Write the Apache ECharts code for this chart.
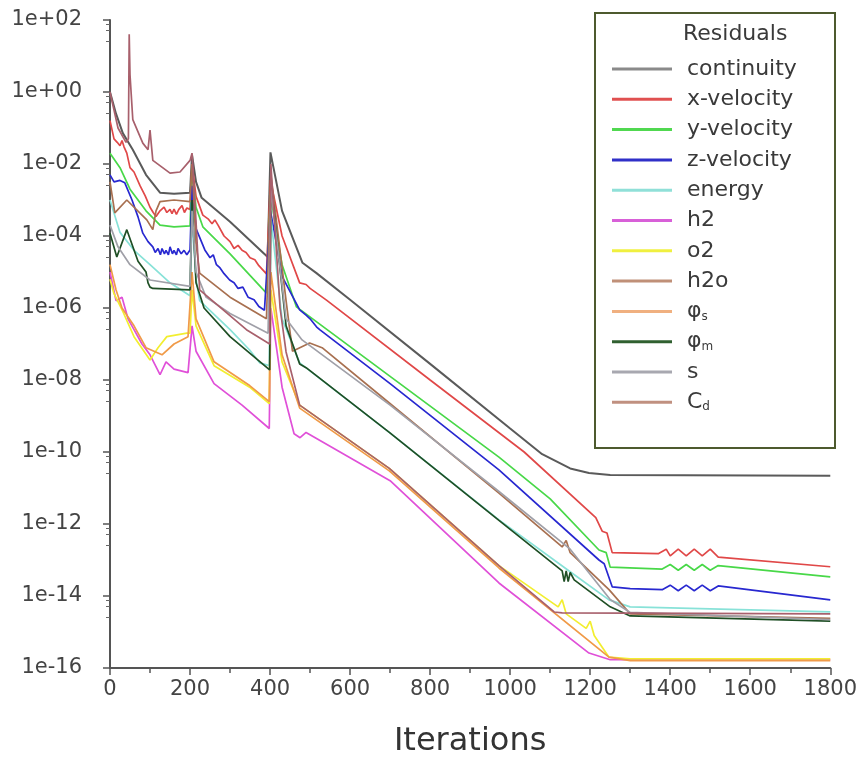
<!DOCTYPE html>
<html><head><meta charset="utf-8">
<script src="https://cdn.jsdelivr.net/npm/echarts@6/dist/echarts.min.js"></script>
<style>html,body{margin:0;padding:0;background:#fff}#c{width:860px;height:776px}</style>
</head><body><div id="c"></div>
<script>
// ---- data (iteration, residual) ----
const seriesNames = ['continuity','x-velocity','y-velocity','z-velocity','energy','h2','o2','h2o','φs','φm','s','Cd'];
const seriesColors = ['#5a5a5a','#e04848','#48d848','#2828d0','#88e2d8','#e050d8','#f2ee30','#a87050','#f09a48','#1f4f25','#a0a0a8','#a8606c'];
const legendColors = ['#8a8a8a','#e05050','#50d850','#3030c8','#90e0d8','#d860d8','#f0f040','#c09078','#f0b080','#306030','#a8a8b0','#c09080'];
const xTicks = [0,200,400,600,800,1000,1200,1400,1600,1800];

const continuity = [[0,1.0],[15,0.25],[32,0.072],[57,0.025],[90,5e-3],[125,1.6e-3],[160,1.5e-3],[200,1.6e-3],[205,1.8e-2],[215,3.2e-3],[229,1.15e-3],[300,2.5e-4],[394,2.6e-5],[401,2.1e-2],[430,5e-4],[481,1.8e-5],[516,9.3e-6],[600,1.7e-6],[800,2.8e-8],[1000,4.5e-10],[1080,8.7e-11],[1150,3.5e-11],[1197,2.6e-11],[1250,2.3e-11],[1800,2.2e-11]];
const xVelocity = [[0,0.16],[10,0.05],[18,0.04],[25,0.032],[30,0.045],[35,0.03],[42,0.02],[50,7.9e-3],[60,6e-3],[75,2.5e-3],[88,1.3e-3],[100,6.3e-4],[108,4.5e-4],[115,3.5e-4],[125,5e-4],[135,6.3e-4],[142,4.5e-4],[150,5.5e-4],[155,4.2e-4],[160,5.6e-4],[166,4e-4],[172,5.5e-4],[180,7e-4],[186,4.5e-4],[192,6e-4],[200,5.5e-4],[205,1e-2],[215,1.26e-3],[232,3.8e-4],[245,3e-4],[255,2.2e-4],[262,2.8e-4],[270,2e-4],[285,1e-4],[300,7e-5],[310,4.5e-5],[320,5.5e-5],[330,4e-5],[340,3.5e-5],[350,2.5e-5],[362,2.2e-5],[372,1.5e-5],[391,8.9e-6],[401,3.6e-3],[430,1e-4],[474,5e-6],[490,4.5e-6],[500,3.5e-6],[541,1.66e-6],[800,1e-8],[1035,1e-10],[1214,1.5e-12],[1230,6.3e-13],[1242,5.6e-13],[1255,1.6e-13],[1370,1.5e-13],[1390,2e-13],[1400,1.3e-13],[1420,2e-13],[1440,1.3e-13],[1460,2e-13],[1480,1.3e-13],[1500,2e-13],[1520,1.2e-13],[1800,6.5e-14]];
const yVelocity = [[0,2e-2],[25,7.9e-3],[50,2e-3],[90,5e-4],[125,2e-4],[160,1.8e-4],[200,1.9e-4],[205,6.3e-3],[215,6.3e-4],[232,1.8e-4],[300,3.2e-5],[391,2.6e-6],[401,1.4e-3],[430,1.6e-5],[466,1.07e-6],[700,1.26e-8],[972,7.2e-11],[1100,5e-12],[1222,1.9e-13],[1240,1.6e-13],[1250,6.3e-14],[1380,5.6e-14],[1400,7.5e-14],[1420,5.2e-14],[1440,7.5e-14],[1460,5.2e-14],[1480,7.5e-14],[1500,5.2e-14],[1520,7e-14],[1800,3.4e-14]];
const zVelocity = [[0,5e-3],[10,3.2e-3],[25,3.5e-3],[37,3e-3],[55,1e-3],[70,3.4e-4],[82,1.2e-4],[95,7e-5],[107,5e-5],[113,3.5e-5],[120,4.5e-5],[126,3e-5],[130,4.5e-5],[136,3.2e-5],[140,4e-5],[146,3e-5],[150,5e-5],[156,3.2e-5],[160,4e-5],[166,3e-5],[170,4.5e-5],[178,3.2e-5],[185,4e-5],[192,3e-5],[200,4.1e-5],[205,2.5e-3],[215,1.6e-4],[237,4.1e-5],[250,2.5e-5],[258,3e-5],[266,1.6e-5],[275,1.3e-5],[285,9e-6],[299,6e-6],[310,5e-6],[320,3.5e-6],[332,3.8e-6],[345,2e-6],[360,1.7e-6],[372,1.1e-6],[386,8.7e-7],[401,5e-4],[431,7.2e-6],[474,8.9e-7],[490,6.3e-7],[500,5e-7],[516,3e-7],[524,2.5e-7],[700,7.9e-9],[972,3.2e-11],[1222,1e-13],[1235,7.9e-14],[1255,1.8e-14],[1300,1.6e-14],[1380,1.5e-14],[1400,2e-14],[1420,1.4e-14],[1440,2e-14],[1460,1.4e-14],[1480,2e-14],[1500,1.4e-14],[1520,1.9e-14],[1800,7.8e-15]];
const energy = [[0,1e-3],[25,1.26e-4],[60,4e-5],[100,1.6e-5],[150,5e-6],[200,2.2e-6],[205,3.2e-4],[215,6.3e-6],[224,1.6e-6],[300,2.5e-7],[349,6.8e-8],[374,3e-8],[398,2.5e-8],[402,3.2e-4],[430,5e-7],[474,3e-8],[698,3.5e-10],[972,1.3e-12],[1150,4.7e-14],[1247,7.8e-15],[1300,5e-15],[1800,3.6e-15]];
const h2 = [[0,1e-5],[15,1.6e-6],[30,2e-6],[45,5e-7],[60,2.5e-7],[80,1e-7],[100,5e-8],[125,1.4e-8],[140,3.2e-8],[160,2e-8],[195,1.6e-8],[205,3.2e-7],[215,6.3e-8],[260,7.9e-9],[330,2e-9],[398,4.5e-10],[402,1e-6],[430,6.3e-9],[460,3.2e-10],[475,2.5e-10],[490,3.5e-10],[700,1.6e-11],[972,2.3e-14],[1197,2.6e-16],[1250,1.7e-16],[1800,1.7e-16]];
const o2 = [[0,6.3e-6],[10,2.5e-6],[32,8e-7],[60,1.6e-7],[100,3.6e-8],[120,7.9e-8],[142,1.6e-7],[192,2e-7],[200,2e-7],[205,3.2e-6],[215,3.2e-7],[260,2.5e-8],[349,6.3e-9],[398,2.2e-9],[402,3.2e-6],[430,3.2e-8],[474,2e-9],[698,3.5e-11],[972,7e-14],[1120,5e-15],[1130,7.9e-15],[1140,3.2e-15],[1190,1.26e-15],[1200,2e-15],[1210,8e-16],[1247,2e-16],[1300,1.8e-16],[1800,1.8e-16]];
const h2o = [[0,3.2e-3],[12,4.4e-4],[42,1e-3],[92,2.8e-4],[107,1.5e-4],[115,5e-4],[125,9e-4],[160,1e-3],[200,9e-4],[205,1e-2],[215,6.3e-5],[224,9.3e-6],[300,2e-6],[391,5e-7],[402,5e-3],[440,1.6e-6],[456,6.3e-8],[499,1.07e-7],[530,7.9e-8],[698,2.3e-9],[972,7.2e-12],[1130,2.3e-13],[1140,3.5e-13],[1150,1.6e-13],[1160,1.26e-13],[1247,1.5e-14],[1300,3.2e-15],[1800,2.4e-15]];
const phiS = [[0,1.6e-5],[15,3.2e-6],[30,1e-6],[60,3.2e-7],[90,7.9e-8],[130,5e-8],[160,1e-7],[195,1.6e-7],[205,1e-5],[215,5e-7],[260,3.2e-8],[349,7e-9],[398,2.5e-9],[402,1e-5],[430,5e-8],[474,1.66e-9],[698,3e-11],[972,6e-14],[1247,2e-16],[1300,1.6e-16],[1800,1.6e-16]];
const phiM = [[0,1.2e-4],[17,2.6e-5],[42,1.5e-4],[70,2e-5],[90,1e-5],[95,5e-6],[100,3.8e-6],[107,3.5e-6],[200,3.2e-6],[205,1e-3],[215,5e-6],[235,1e-6],[300,1.6e-7],[399,1.9e-8],[402,3.2e-3],[440,3.2e-7],[474,2.8e-8],[490,2.2e-8],[698,3.5e-10],[972,1.26e-12],[1130,5e-14],[1135,2.5e-14],[1140,5e-14],[1145,2.5e-14],[1150,4.5e-14],[1160,2.8e-14],[1250,5e-15],[1300,2.8e-15],[1800,2e-15]];
const sRes = [[0,2e-4],[20,5e-5],[50,1.6e-5],[100,6e-6],[200,4e-6],[205,5e-4],[215,1e-5],[240,2e-6],[300,7e-7],[395,2e-7],[402,2e-3],[440,5e-7],[480,1.3e-7],[700,2e-9],[972,8e-12],[1150,2e-13],[1250,8e-15],[1300,3.5e-15],[1800,2.2e-15]];
const cd = [[0,1.0],[20,0.1],[40,0.04],[46,0.05],[48,40],[50,3],[57,0.17],[82,0.038],[95,0.025],[100,0.087],[107,0.0126],[150,5.6e-3],[175,6e-3],[200,1.26e-2],[205,2e-2],[215,2.5e-4],[224,3.2e-6],[341,2.5e-7],[399,1e-7],[402,1e-2],[425,1e-6],[440,6e-8],[474,2e-9],[698,3.5e-11],[972,7e-14],[1110,3.6e-15],[1130,3.4e-15],[1800,3.2e-15]];

const allData = [continuity,xVelocity,yVelocity,zVelocity,energy,h2,o2,h2o,phiS,phiM,sRes,cd];

function expLabel(v){
  const e = Math.round(Math.log10(v));
  const a = Math.abs(e);
  return '1e' + (e<0?'-':'+') + (a<10?'0':'') + a;
}
const FONT = 'DejaVu Sans';
const chart = echarts.init(document.getElementById('c'), null, {renderer:'canvas'});
chart.setOption({
  animation:false,
  backgroundColor:'#ffffff',
  grid:{left:110,right:28,top:20,bottom:108,containLabel:false},
  xAxis:{
    type:'value',min:0,max:1800,interval:200,
    name:'Iterations',nameLocation:'middle',nameGap:58,
    nameTextStyle:{fontFamily:FONT,fontSize:32,color:'#333'},
    axisLine:{show:true,onZero:false,lineStyle:{color:'#555',width:2}},
    axisTick:{show:true,inside:false,length:7,lineStyle:{color:'#555',width:1.5}},
    minorTick:{show:true,splitNumber:2,length:5,lineStyle:{color:'#555',width:1.5}},
    axisLabel:{fontFamily:FONT,fontSize:21,color:'#444',margin:11,
      formatter:v=>xTicks.includes(v)?String(v):''},
    splitLine:{show:false}
  },
  yAxis:{
    type:'log',logBase:10,min:1e-16,max:1e2,interval:2,
    axisLine:{show:true,lineStyle:{color:'#555',width:2}},
    axisTick:{show:true,inside:false,length:7,lineStyle:{color:'#555',width:1.5}},
    minorTick:{show:true,splitNumber:4,length:4,lineStyle:{color:'#666',width:1}},
    axisLabel:{fontFamily:FONT,fontSize:21,color:'#444',margin:28,formatter:expLabel},
    splitLine:{show:false}
  },
  legend:{
    show:true,orient:'vertical',left:607,top:53,z:10,
    icon:'rect',itemWidth:60,itemHeight:3,itemGap:8.3,
    data:seriesNames.map((n,i)=>({name:n,itemStyle:{color:legendColors[i]}})),
    textStyle:{fontFamily:FONT,fontSize:22,color:'#3a3a3a',lineHeight:22,padding:[0,0,0,10],
      rich:{m:{fontFamily:FONT,fontSize:22,color:'#3a3a3a',lineHeight:22},
            sub:{fontFamily:FONT,fontSize:12,color:'#3a3a3a',lineHeight:22,verticalAlign:'bottom'}}},
    formatter:function(n){
      if(n==='φs') return '{m|φ}{sub|s}';
      if(n==='φm') return '{m|φ}{sub|m}';
      if(n==='Cd') return '{m|C}{sub|d}';
      return n;
    }
  },
  graphic:[
    {type:'rect',z:5,shape:{x:595,y:13,width:240,height:435},style:{fill:'#fff',stroke:'#4d5a2e',lineWidth:2}},
    {type:'text',z:11,left:683,top:23,style:{text:'Residuals',font:'22px "DejaVu Sans"',fill:'#3a3a3a'}}
  ],
  series:seriesNames.map((n,i)=>({
    name:n,type:'line',data:allData[i],showSymbol:false,symbol:'none',
    lineStyle:{color:seriesColors[i],width:i===0?2:1.7},
    itemStyle:{color:seriesColors[i]},z:2
  }))
});
</script></body></html>
